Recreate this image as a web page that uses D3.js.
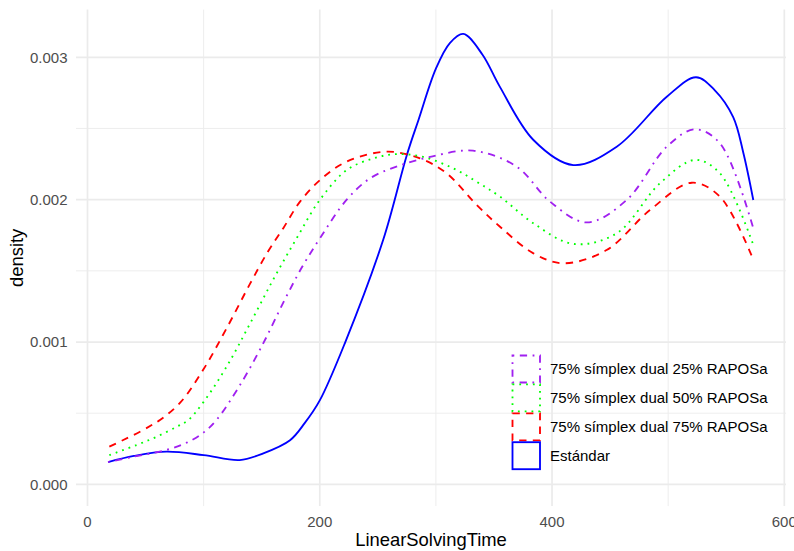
<!DOCTYPE html>
<html><head><meta charset="utf-8">
<script src="https://cdn.jsdelivr.net/npm/d3@7"></script>
<style>body{margin:0;background:#fff}svg{display:block}text{font-family:"Liberation Sans",Arial,sans-serif}</style>
</head><body>
<script>
// ---- data ----
const seriesNames = ["75% símplex dual 25% RAPOSa","75% símplex dual 50% RAPOSa","75% símplex dual 75% RAPOSa","Estándar"];
const colors = ["#A020F0","#00FF00","#FF0000","#0000FF"];
const dashes = ["1.8,5.5,7.3,5.5","1.8,5","7.3,6.3",null];

const p25X = [17.7,40,68,85.4,99.7,111,130,150,170,185,200.2,223.2,243.3,266,295,332,369.6,398.3,429.9,464.3,498.8,523,544.6,573.3];
const p25Y = [0.000157,0.000195,0.000242,0.000293,0.000363,0.000452,0.00068,0.00097,0.0013,0.00153,0.001729,0.002,0.00215,0.002232,0.0023,0.002344,0.002232,0.001986,0.00184,0.001998,0.002372,0.002494,0.002396,0.001799];

const p50X = [18.8,42.4,59.6,76.8,86.8,100,120,140,160,180.1,200.2,223.2,246.1,266,289.2,315,335.1,355.2,384,418.3,455.7,492.9,523.1,544.6,573.3];
const p50Y = [0.000206,0.000277,0.000335,0.000405,0.000452,0.00058,0.00083,0.00113,0.00144,0.001729,0.002,0.002208,0.00229,0.00232,0.0023,0.00222,0.002126,0.002021,0.001834,0.001689,0.001764,0.002115,0.002279,0.002185,0.001682];

const p75X = [18.8,30.8,45.2,55.3,62.4,80,100,120,140,155,168.6,183,200.2,223.2,257.6,286.3,309.3,335.1,355.2,384,409.7,447,484.3,520.3,544.6,572.8];
const p75Y = [0.000265,0.000312,0.00037,0.000417,0.000452,0.000576,0.00081,0.0011,0.00141,0.00163,0.0018,0.001986,0.002138,0.002267,0.002337,0.00229,0.002185,0.001963,0.00181,0.001623,0.001553,0.001646,0.001927,0.002119,0.002021,0.001588];

const stdX = [17.7,40,68,100,131,151.4,174.4,187,200,222,254.7,275,285,300,312,323.6,340,355,384,418.3,455.7,498.8,524,540,556,564.7,573.3];
const stdY = [0.000157,0.0002,0.00023,0.000206,0.000171,0.000218,0.00031,0.00043,0.00059,0.001,0.00172,0.002314,0.00256,0.00292,0.0031,0.003164,0.00302,0.002794,0.002419,0.002243,0.002372,0.002723,0.00286,0.00277,0.00258,0.00233,0.001998];

const xTicks = [0,200,400,600];
const xMinor = [100,300,500];
const yTicks = [0,0.001,0.002,0.003];
const yMinor = [0.0005,0.0015,0.0025];
const xTitle = "LinearSolvingTime", yTitle = "density";

// ---- layout ----
const W = 794, H = 551;
const x = d3.scaleLinear().domain([0,600]).range([87.5,784.3]);
const y = d3.scaleLinear().domain([0,0.003]).range([484.4,57.3]);
const panel = {x0:x(-9.9), x1:x(601.5), y0:y(0.003335), y1:y(-0.000152)};

const svg = d3.select("body").append("svg").attr("width",W).attr("height",H);
const grid = svg.append("g").attr("stroke","#EBEBEB").attr("fill","none");
grid.selectAll(".xm").data(xMinor).join("line").attr("x1",d=>x(d)).attr("x2",d=>x(d)).attr("y1",panel.y0).attr("y2",panel.y1).attr("stroke-width",0.9);
grid.selectAll(".ym").data(yMinor).join("line").attr("y1",d=>y(d)).attr("y2",d=>y(d)).attr("x1",panel.x0).attr("x2",panel.x1).attr("stroke-width",0.9);
grid.selectAll(".xM").data(xTicks).join("line").attr("x1",d=>x(d)).attr("x2",d=>x(d)).attr("y1",panel.y0).attr("y2",panel.y1).attr("stroke-width",1.7);
grid.selectAll(".yM").data(yTicks).join("line").attr("y1",d=>y(d)).attr("y2",d=>y(d)).attr("x1",panel.x0).attr("x2",panel.x1).attr("stroke-width",1.7);

// axes tick labels
svg.append("g").selectAll("text").data(xTicks).join("text")
  .attr("x",d=>x(d)).attr("y",526.5).attr("text-anchor","middle")
  .attr("font-size",15).attr("fill","#4D4D4D").text(d=>d3.format("d")(d));
svg.append("g").selectAll("text").data(yTicks).join("text")
  .attr("x",67.5).attr("y",d=>y(d)).attr("dy","0.36em").attr("text-anchor","end")
  .attr("font-size",15).attr("fill","#4D4D4D").text(d=>d3.format(".3f")(d));
svg.append("text").attr("x",(panel.x0+panel.x1)/2).attr("y",545.5).attr("text-anchor","middle")
  .attr("font-size",18.4).attr("fill","#000").text(xTitle);
svg.append("text").attr("transform",`translate(23,${(panel.y0+panel.y1)/2}) rotate(-90)`).attr("text-anchor","middle")
  .attr("font-size",18.4).attr("fill","#000").text(yTitle);

// curves
const seriesX = [p25X,p50X,p75X,stdX], seriesY = [p25Y,p50Y,p75Y,stdY];
const line = d3.line().x(d=>x(d[0])).y(d=>y(d[1])).curve(d3.curveCatmullRom.alpha(0.5));
const drawOrder = [3,2,1,0];
drawOrder.forEach(i=>{
  const pts = seriesX[i].map((v,k)=>[v,seriesY[i][k]]);
  const p = svg.append("path").attr("d",line(pts)).attr("fill","none")
    .attr("stroke",colors[i]).attr("stroke-width",1.85);
  if (dashes[i]) p.attr("stroke-dasharray",dashes[i]);
});

// legend
const lg = svg.append("g");
seriesNames.forEach((n,i)=>{
  const cy = 355.5 + 28.9*i;
  const r = lg.append("rect").attr("x",512.5).attr("y",cy).attr("width",27.5).attr("height",27)
    .attr("fill","none").attr("stroke",colors[i]).attr("stroke-width",1.85);
  if (dashes[i]) r.attr("stroke-dasharray",dashes[i]);
  lg.append("text").attr("x",550).attr("y",cy+13.5).attr("dy","0.36em").attr("font-size",15)
    .attr("fill","#000").text(n);
});
</script>
</body></html>
